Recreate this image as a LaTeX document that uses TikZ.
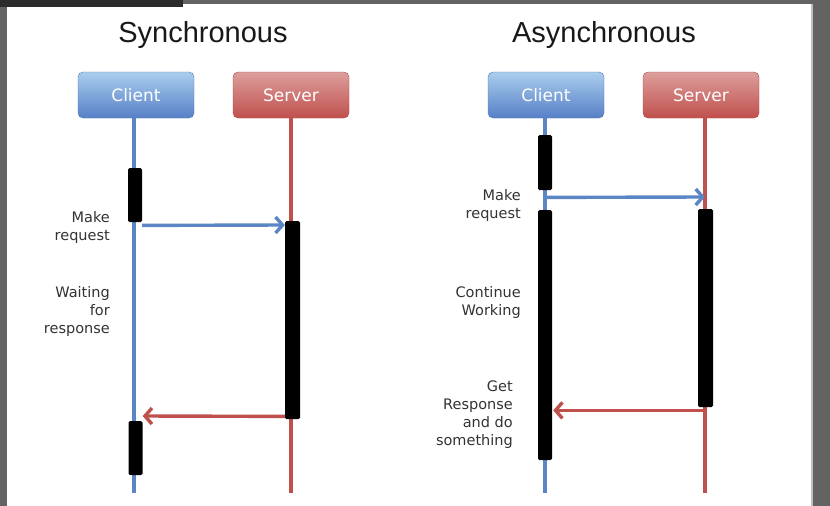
\documentclass[tikz,border=0pt]{standalone}
\usepackage{fontspec}
\setmainfont{DejaVu Sans}
\newfontfamily\titlefont{Liberation Sans}
\usepackage{tikz}
\usetikzlibrary{arrows.meta}
\usetikzlibrary{calc}
\usepackage{xcolor}
\definecolor{cliblue}{HTML}{5B86C4}
\definecolor{srvred}{HTML}{C0504D}
\definecolor{frame}{HTML}{636363}

\begin{document}
\begin{tikzpicture}[x=1pt,y=-1pt,
		heading/.style={font=\titlefont\fontsize{29}{32}\selectfont,text=black!90},
		clientbox/.style={rounded corners=5pt,minimum width=116pt,minimum height=46pt,
			top color=blue!35!cyan!20!white!70!cliblue,bottom color=cliblue!95!blue,draw=cliblue!90!black,
			text=white,font=\fontsize{17}{20}\selectfont},
		serverbox/.style={clientbox,top color=srvred!55!white,bottom color=srvred,draw=srvred!90!black},
		actbar/.style={fill=black,rounded corners=1.5pt,minimum width=14pt,inner sep=0pt},
		lbl/.style={align=right,text=black!80,inner sep=0pt,font=\fontsize{14.5}{18}\selectfont},
		lifeline/.style={line width=3.2pt},
		req/.style={line width=3.4pt,cliblue,-{Straight Barb[length=7pt,width=16pt]}},
		resp/.style={line width=3.4pt,srvred,-{Straight Barb[length=7pt,width=16pt]}}]
		% Frame round the slide
		\fill[frame] (0,0) rectangle (830,506);
		\fill[white] (7,4) rectangle (811,506);
		\fill[black!25] (811,4) rectangle (813,506);
		\fill[black!83] (0,0) rectangle (183,7);
		\useasboundingbox (0,0) rectangle (830,506);
		
		% Titles
		\node[heading] (tsync) at (203,35) {Synchronous};
		\node[heading] (tasync) at (604,35) {Asynchronous};
		
		% Participants and their lifelines
		\foreach \name/\x/\kind in {clientS/136/clientbox, serverS/291/serverbox, clientA/546/clientbox, serverA/701/serverbox} {
			\node[\kind] (\name) at (\x,95) {};
			\coordinate (\name end) at (\name.south |- 0,493);
		}
		\node[font=\fontsize{17}{20}\selectfont,text=white] at (clientS) {Client};
		\node[font=\fontsize{17}{20}\selectfont,text=white] at (serverS) {Server};
		\node[font=\fontsize{17}{20}\selectfont,text=white] at (clientA) {Client};
		\node[font=\fontsize{17}{20}\selectfont,text=white] at (serverA) {Server};
		
		\draw[lifeline,cliblue] (clientS.south -| 134,0) -- (134,493);
		\draw[lifeline,srvred] (serverS.south) -- (serverSend);
		\draw[lifeline,cliblue] (clientA.south -| 545,0) -- (545,493);
		\draw[lifeline,srvred] (serverA.south -| 705,0) -- (705,493);
		
		% Synchronous: activation bars
		\node[actbar,minimum height=54pt,anchor=north] (sbar1) at (135,168) {};
		\node[actbar,minimum height=198pt,anchor=north,minimum width=15pt] (sbar2) at (292.5,221) {};
		\node[actbar,minimum height=54pt,anchor=north] (sbar3) at (135.5,421) {};
		
		\draw[req] ($(sbar1.south east)+(0,3)$) -- ($(sbar2.north west)+(0,4)$);
		\draw[resp] ($(sbar2.south west)+(0,-3)$) -- ($(sbar3.north east)+(0,-5)$);
		
		\node[lbl,anchor=east] (smake) at (110,227) {Make\\request};
		\node[lbl,anchor=east] (swait) at (110,311) {Waiting\\for\\response};
		
		% Asynchronous: activation bars
		\node[actbar,minimum height=55pt,anchor=north] (abar1) at (545,135) {};
		\node[actbar,minimum height=250pt,anchor=north] (abar2) at (545,210) {};
		\node[actbar,minimum height=198pt,anchor=north,minimum width=15pt] (abar3) at (705.5,209) {};
		
		\coordinate (areq) at ($(abar1.south)+(0,7)$);
		\coordinate (areqtip) at (705,197);
		\draw[req] (areq) -- (areqtip);
		\draw[resp] ($(abar3.south)+(-2,3)$) -- ($(abar2.east |- abar3.south)+(1,3)$);
		
		\node[lbl,anchor=east] (amake) at (521,205) {Make\\request};
		\node[lbl,anchor=east] (awork) at (521,302) {Continue\\Working};
		\node[lbl,anchor=east] (aget) at (513,415) {Get\\Response\\and do\\something};
	\end{tikzpicture}
\end{document}
